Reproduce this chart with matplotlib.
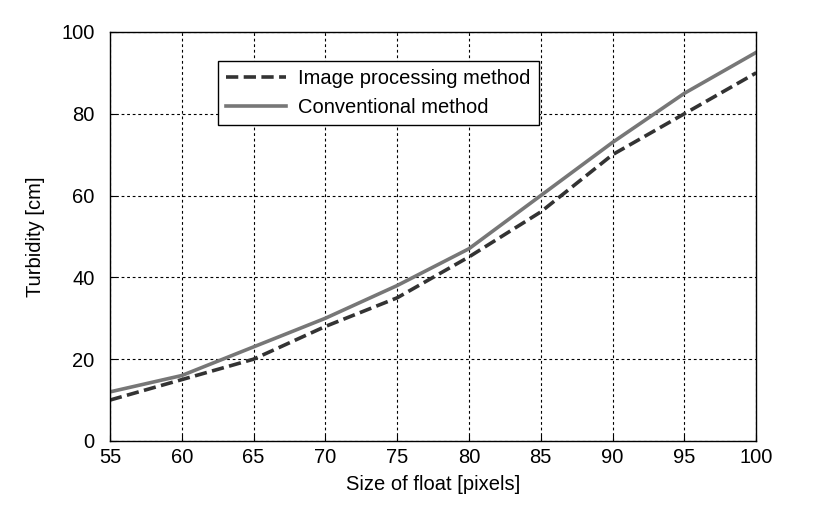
import numpy as np
import matplotlib.pyplot as plt

plt.rcParams['font.family'] = ['Liberation Sans', 'DejaVu Sans']

float_size = [55, 60, 65, 70, 75, 80, 85, 90, 95, 100]
image_method = [10, 15, 20, 28, 35, 45, 56, 70, 80, 90]
conventional = [12, 16, 23, 30, 38, 47, 60, 73, 85, 95]

fs = 14.5

fig = plt.figure(figsize=(8.14, 5.15), dpi=100)
ax = fig.add_axes([0.135, 0.1437, 0.794, 0.7943])

ax.plot(float_size, image_method, color='#333333', lw=2.6, ls=(0, (3.4, 1.5)),
        label='Image processing method')
ax.plot(float_size, conventional, color='#777777', lw=2.6,
        label='Conventional method')

ax.set_xlim(55, 100)
ax.set_ylim(0, 100)
ax.set_xticks(np.arange(55, 101, 5))
ax.set_yticks(np.arange(0, 101, 20))
ax.grid(True, color='black', ls=(0, (2.5, 2.5)), lw=0.8)
ax.tick_params(labelsize=fs, direction='in', length=4)
ax.tick_params(axis='x', pad=5)
ax.tick_params(axis='y', pad=11)
for s in ax.spines.values():
    s.set_linewidth(1.0)

ax.set_xlabel('Size of float [pixels]', fontsize=fs, labelpad=6)
ax.set_ylabel('Turbidity [cm]', fontsize=fs, labelpad=12)

leg = ax.legend(loc='upper left', bbox_to_anchor=(0.167, 0.93), fontsize=fs,
                fancybox=False, framealpha=1, edgecolor='black',
                handlelength=3.0, handletextpad=0.6, borderpad=0.4,
                labelspacing=0.5, borderaxespad=0)
leg.get_frame().set_linewidth(1.0)

fig.savefig('out.png', dpi=100)
